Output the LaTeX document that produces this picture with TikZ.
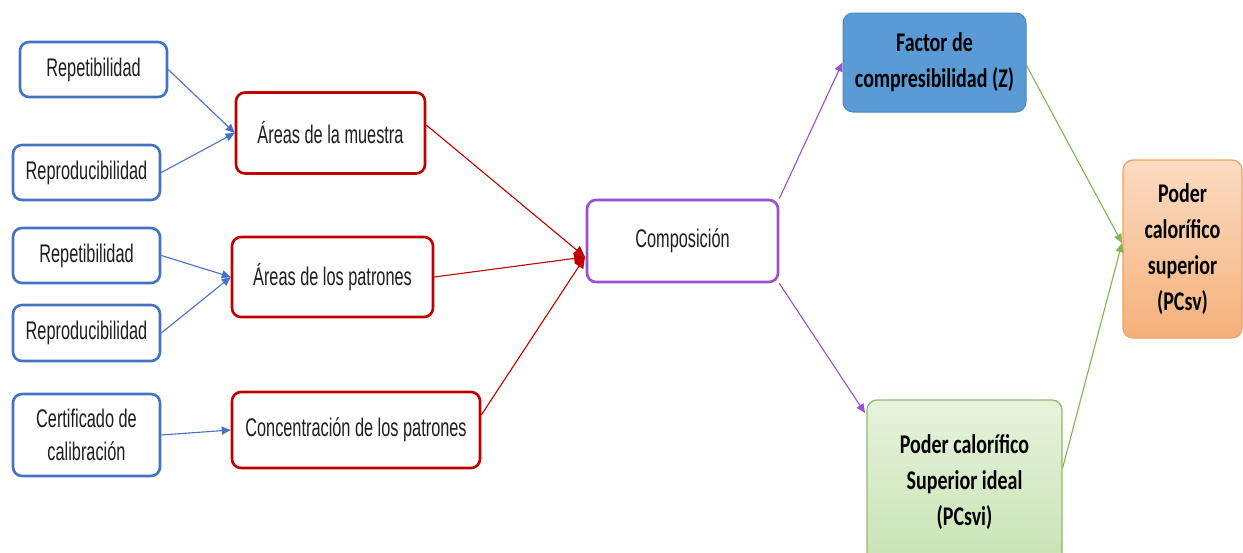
\documentclass[tikz,border=0pt]{standalone}
\usepackage{fontspec}
\newfontfamily\narrowf[FakeStretch=0.64]{Liberation Sans}
\newfontfamily\boldf[FakeStretch=0.74]{Carlito Bold}
\usetikzlibrary{arrows.meta,calc}
\definecolor{cblue}{HTML}{4472C4}
\definecolor{cred}{HTML}{C00000}
\definecolor{cpurple}{HTML}{9B4FD3}
\definecolor{cgreen}{HTML}{7FB654}
\definecolor{ctext}{HTML}{1E1E1E}
\definecolor{fblue}{HTML}{5B9BD5}
\definecolor{bblue}{HTML}{4A86C2}
\definecolor{forangeT}{HTML}{FCDCC2}
\definecolor{forangeB}{HTML}{F5B07A}
\definecolor{borange}{HTML}{F0A060}
\definecolor{fgreenT}{HTML}{E6F3DC}
\definecolor{fgreenB}{HTML}{C8E3B3}
\definecolor{bgreen}{HTML}{8DBB6A}
\tikzset{
  basebox/.style={rounded corners=9pt, line width=2.6pt, align=center, inner sep=2pt,
    text=ctext, font=\narrowf\fontsize{25.5}{33}\selectfont},
  bluebox/.style={basebox, draw=cblue, fill=white},
  redbox/.style={basebox, draw=cred, fill=white},
  purplebox/.style={basebox, draw=cpurple, fill=white},
  boldtxt/.style={rounded corners=10pt, align=center, text=black,
    font=\boldf\fontsize{27}{36}\selectfont},
  barrow/.style={draw=cblue, line width=1.1pt, -{Triangle[length=9pt,width=8pt]}},
  rarrow/.style={draw=cred, line width=1.1pt, -{Triangle[length=11pt,width=10pt]}},
  parrow/.style={draw=cpurple, line width=1.1pt, -{Triangle[length=9pt,width=8pt]}},
  garrow/.style={draw=cgreen, line width=1.1pt, -{Triangle[length=9pt,width=8pt]}},
}
\begin{document}
\begin{tikzpicture}[x=1pt,y=-1pt]
\useasboundingbox (0,0) rectangle (1243,552);
\clip (0,0) rectangle (1243,552);
\fill[white] (0,0) rectangle (1243,552);

% left column
\node[bluebox, minimum width=147, minimum height=55] (rep1) at (93.5,69.5) {Repetibilidad};
\node[bluebox, minimum width=147, minimum height=55] (rpr1) at (86.5,172.5) {Reproducibilidad};
\node[bluebox, minimum width=147, minimum height=55] (rep2) at (86.5,255.5) {Repetibilidad};
\node[bluebox, minimum width=147, minimum height=56] (rpr2) at (86.5,333) {Reproducibilidad};
\node[bluebox, minimum width=147, minimum height=82] (cert) at (86.5,435) {Certificado de\\calibración};

% middle column
\node[redbox, minimum width=189, minimum height=81] (am) at (330.5,133) {Áreas de la muestra};
\node[redbox, minimum width=201, minimum height=80] (ap) at (332.5,277) {Áreas de los patrones};
\node[redbox, minimum width=248, minimum height=76] (conc) at (356,430) {Concentración de los patrones};

% composition
\node[purplebox, minimum width=191, minimum height=82] (comp) at (682.5,241) {Composición};

% right side
\node[boldtxt, fill=fblue, draw=bblue, line width=1pt, minimum width=183, minimum height=99] (fz) at (934.5,62.5) {Factor de\\compresibilidad (Z)};
\node[boldtxt, top color=forangeT, bottom color=forangeB, draw=borange, line width=1.2pt, minimum width=119, minimum height=178] (pcsv) at (1182.5,249) {Poder\\calorífico\\superior\\(PCsv)};
\node[boldtxt, top color=fgreenT, bottom color=fgreenB, draw=bgreen, line width=1.2pt, minimum width=195, minimum height=164] (pcsvi) at (964.5,482) {Poder calorífico\\Superior ideal\\(PCsvi)};

% connection points
\coordinate (cin) at (585,257);
\coordinate (gin) at (1122,243);
\coordinate (vin) at (865,413);

% arrows
\draw[barrow] (rep1.east) -- (am.west);
\draw[barrow] (rpr1.east) -- (am.west);
\draw[barrow] (rep2.east) -- (ap.west);
\draw[barrow] (rpr2.east) -- (ap.west);
\draw[barrow] (cert.east) -- (conc.west);

\draw[rarrow] ([yshift=8]am.east) -- (cin);
\draw[rarrow] (ap.east) -- (cin);
\draw[rarrow] ([yshift=15]conc.east) -- (cin);

\draw[parrow] (comp.north east) -- (fz.west);
\draw[parrow] (comp.south east) -- (vin);

\draw[garrow] ([yshift=-3]fz.east) -- (gin);
\draw[garrow] ([yshift=14]pcsvi.east) -- (gin);
\end{tikzpicture}
\end{document}
